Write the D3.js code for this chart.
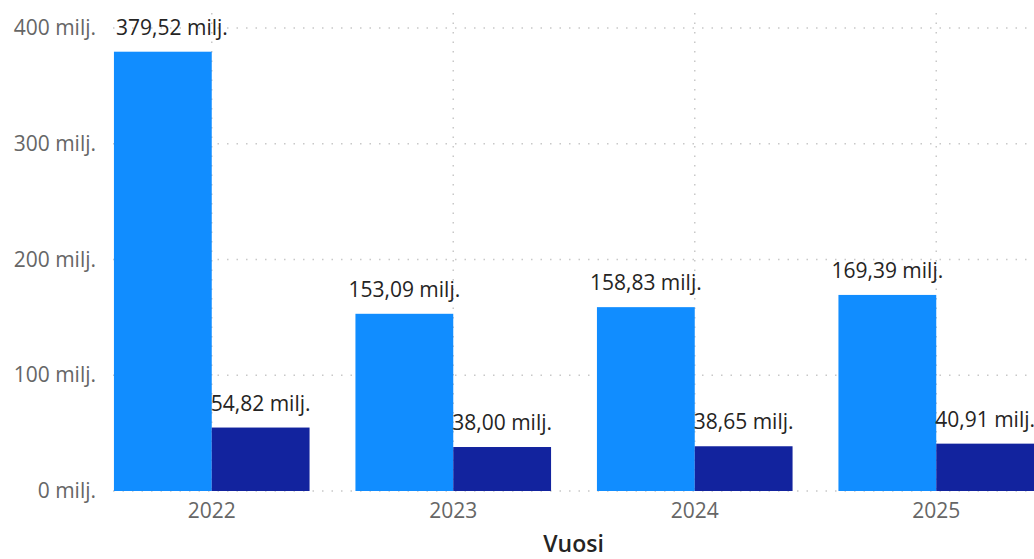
<!DOCTYPE html>
<html>
<head>
<meta charset="utf-8">
<script src="https://cdn.jsdelivr.net/npm/d3@7"></script>
<style>
  html, body { margin: 0; padding: 0; background: #fff; }
  svg { display: block; font-family: "Open Sans", "Noto Sans", sans-serif; }
</style>
</head>
<body>
<div class="container"></div>
<script>
// chart data
const years = ["2022", "2023", "2024", "2025"];
const seriesA = [379.52, 153.09, 158.83, 169.39];
const seriesB = [54.82, 38.00, 38.65, 40.91];
const yTicks = [0, 100, 200, 300, 400];
const xTitle = "Vuosi";

const w = 1034;
const h = 559;

const svg = d3.select(".container")
    .append("svg")
    .attr("width", w)
    .attr("height", h);

// plot area (named so they don't clash with window.top)
const plotLeft = 113, plotRight = 1034, plotTop = 13, plotBottom = 491;

// y scale: 0 at bottom, 400 near top
const yScale = d3.scaleLinear()
    .domain([0, 400])
    .range([plotBottom, 28]);

// x scale for the year groups
const xScale = d3.scaleBand()
    .domain(years)
    .range([91, 1057])
    .paddingInner(0.19)
    .paddingOuter(0.095);

// inner scale for the two bars of each year
const xInner = d3.scaleBand()
    .domain(["a", "b"])
    .range([0, xScale.bandwidth()]);

const fmt = (v) => d3.format(".2f")(v).replace(".", ",") + " milj.";

// horizontal gridlines
svg.append("g")
    .selectAll("line")
    .data(yTicks)
    .enter()
    .append("line")
    .attr("x1", plotLeft)
    .attr("x2", plotRight)
    .attr("y1", (d) => yScale(d))
    .attr("y2", (d) => yScale(d))
    .attr("stroke", "#c8c8c8")
    .attr("stroke-width", 1.5)
    .attr("stroke-dasharray", "1.5,8");

// vertical gridlines at the category centers
svg.append("g")
    .selectAll("line")
    .data(years)
    .enter()
    .append("line")
    .attr("x1", (d) => xScale(d) + xScale.bandwidth() / 2)
    .attr("x2", (d) => xScale(d) + xScale.bandwidth() / 2)
    .attr("y1", plotTop)
    .attr("y2", plotBottom)
    .attr("stroke", "#c8c8c8")
    .attr("stroke-width", 1.5)
    .attr("stroke-dasharray", "1.5,8");

// y axis labels
const yAxis = d3.axisLeft(yScale)
    .tickValues(yTicks)
    .tickSize(0)
    .tickPadding(0)
    .tickFormat((d) => d + " milj.");

svg.append("g")
    .attr("transform", "translate(96,0)")
    .call(yAxis)
    .call((g) => g.select(".domain").remove())
    .selectAll("text")
    .attr("font-family", "Open Sans, Noto Sans, sans-serif")
    .attr("font-size", 21)
    .attr("fill", "#666666");

// x axis labels
const xAxis = d3.axisBottom(xScale)
    .tickSize(0)
    .tickPadding(12);

svg.append("g")
    .attr("transform", `translate(0, ${plotBottom})`)
    .call(xAxis)
    .call((g) => g.select(".domain").remove())
    .selectAll("text")
    .attr("font-family", "Open Sans, Noto Sans, sans-serif")
    .attr("font-size", 21)
    .attr("fill", "#666666");

// x axis title
svg.append("text")
    .attr("x", (plotLeft + plotRight) / 2)
    .attr("y", 552)
    .attr("text-anchor", "middle")
    .attr("font-size", 23)
    .attr("font-weight", 600)
    .attr("fill", "#252423")
    .text(xTitle);

// bars
const rows = years.map((y, i) => ({ year: y, a: seriesA[i], b: seriesB[i] }));
const series = [
    { key: "a", color: "#118DFF" },
    { key: "b", color: "#12239E" }
];

series.forEach((s) => {
    svg.append("g")
        .selectAll("rect")
        .data(rows)
        .enter()
        .append("rect")
        .attr("x", (d) => xScale(d.year) + xInner(s.key))
        .attr("y", (d) => yScale(d[s.key]))
        .attr("width", xInner.bandwidth())
        .attr("height", (d) => plotBottom - yScale(d[s.key]))
        .attr("fill", s.color);
});

// data labels, kept inside the plot on the left
series.forEach((s) => {
    svg.append("g")
        .selectAll("text")
        .data(rows)
        .enter()
        .append("text")
        .attr("x", (d) => Math.max(xScale(d.year) + xInner(s.key) + xInner.bandwidth() / 2, plotLeft + 59))
        .attr("y", (d) => yScale(d[s.key]) - 17)
        .attr("text-anchor", "middle")
        .attr("font-size", 21)
        .attr("fill", "#252423")
        .text((d) => fmt(d[s.key]));
});
</script>
</body>
</html>
